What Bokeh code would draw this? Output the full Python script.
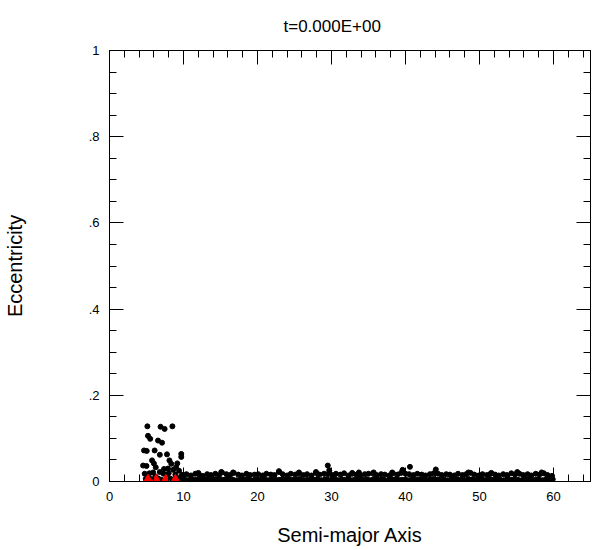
from bokeh.plotting import figure
from bokeh.models import Range1d, FixedTicker, LinearAxis
from bokeh.embed import file_html
from bokeh.resources import INLINE

# ---- data ----
title_text = "t=0.000E+00"
x_title = "Semi-major Axis"
y_title = "Eccentricity"

x_major = [0, 10, 20, 30, 40, 50, 60]
x_minor = [2, 4, 6, 8, 12, 14, 16, 18, 22, 24, 26, 28, 32, 34, 36, 38, 42, 44, 46, 48, 52, 54, 56, 58, 62, 64]
y_major = [0, 0.2, 0.4, 0.6, 0.8, 1.0]
y_minor = [0.05, 0.1, 0.15, 0.25, 0.3, 0.35, 0.45, 0.5, 0.55, 0.65, 0.7, 0.75, 0.85, 0.9, 0.95]
y_labels = {0: "0", 0.2: ".2", 0.4: ".4", 0.6: ".6", 0.8: ".8", 1.0: "1"}

# inner scattered bodies (black dots), a in AU, e
inner_a = [5.12, 6.9, 7.45, 8.5, 5.2, 5.5, 6.56, 7.1, 4.67, 5.03, 6.1, 6.8, 7.77, 9.7, 9.7,
           5.75, 6.0, 8.1, 8.35, 9.16, 4.54, 5.0, 6.25, 7.37, 7.9, 8.6, 9.0, 4.76, 5.4, 5.9,
           6.8, 7.3, 8.0, 8.9, 9.4, 5.3, 6.2, 7.8, 9.0, 4.9, 5.7, 6.6, 7.0, 8.3, 9.3, 9.8]
inner_e = [0.128, 0.127, 0.122, 0.128, 0.106, 0.099, 0.095, 0.090, 0.072, 0.071, 0.072, 0.062, 0.063, 0.064, 0.057,
           0.049, 0.042, 0.049, 0.041, 0.042, 0.037, 0.036, 0.033, 0.029, 0.030, 0.027, 0.033, 0.018, 0.019, 0.021,
           0.022, 0.018, 0.019, 0.016, 0.025, 0.010, 0.012, 0.011, 0.009, 0.006, 0.005, 0.007, 0.004, 0.006, 0.008, 0.015]

# planets (red triangles)
planet_a = [5.2, 6.3, 7.6, 8.9]
planet_e = [0.006, 0.006, 0.006, 0.006]

# outer disc band, low layer
band_a = [9.6, 10.1, 10.5, 11.0, 11.5, 12.0, 12.4, 12.9, 13.4, 13.9, 14.3, 14.8, 15.3, 15.8, 16.2, 16.7, 17.2, 17.7,
          18.1, 18.6, 19.1, 19.6, 20.0, 20.5, 21.0, 21.5, 21.9, 22.4, 22.9, 23.4, 23.8, 24.3, 24.8, 25.3, 25.7, 26.2,
          26.7, 27.2, 27.6, 28.1, 28.6, 29.1, 29.5, 30.0, 30.5, 31.0, 31.4, 31.9, 32.4, 32.9, 33.3, 33.8, 34.3, 34.8,
          35.2, 35.7, 36.2, 36.7, 37.1, 37.6, 38.1, 38.6, 39.0, 39.5, 40.0, 40.5, 40.9, 41.4, 41.9, 42.4, 42.8, 43.3,
          43.8, 44.3, 44.7, 45.2, 45.7, 46.2, 46.6, 47.1, 47.6, 48.1, 48.5, 49.0, 49.5, 50.0, 50.4, 50.9, 51.4, 51.9,
          52.3, 52.8, 53.3, 53.8, 54.2, 54.7, 55.2, 55.7, 56.1, 56.6, 57.1, 57.6, 58.0, 58.5, 59.0, 59.5, 59.9]
band_e = [0.004, 0.005, 0.003, 0.006, 0.004, 0.005, 0.003, 0.004, 0.006, 0.004, 0.005, 0.003, 0.004, 0.006, 0.005, 0.004, 0.003, 0.005,
          0.004, 0.006, 0.003, 0.004, 0.005, 0.004, 0.006, 0.003, 0.005, 0.004, 0.004, 0.006, 0.003, 0.005, 0.004, 0.005, 0.006, 0.003,
          0.004, 0.005, 0.004, 0.006, 0.003, 0.005, 0.004, 0.004, 0.006, 0.003, 0.005, 0.004, 0.005, 0.003, 0.006, 0.004, 0.004, 0.005,
          0.003, 0.006, 0.004, 0.005, 0.004, 0.003, 0.006, 0.005, 0.004, 0.004, 0.005, 0.003, 0.006, 0.004, 0.005, 0.004, 0.003, 0.005,
          0.006, 0.004, 0.004, 0.005, 0.003, 0.006, 0.004, 0.005, 0.004, 0.003, 0.006, 0.005, 0.004, 0.004, 0.005, 0.003, 0.006, 0.004,
          0.005, 0.004, 0.003, 0.006, 0.004, 0.005, 0.004, 0.003, 0.006, 0.005, 0.004, 0.004, 0.005, 0.003, 0.006, 0.004, 0.005]

# outer disc band, upper layer
top_a = [9.9, 10.4, 11.0, 11.6, 12.1, 12.6, 13.2, 13.7, 14.3, 14.8, 15.2, 15.8, 16.3, 16.8, 17.4, 17.9, 18.5, 19.0,
         19.6, 20.1, 20.7, 21.2, 21.8, 22.3, 22.9, 23.4, 24.0, 24.5, 25.1, 25.6, 26.2, 26.7, 27.3, 27.9, 28.4, 29.0,
         29.5, 30.1, 30.6, 31.2, 31.7, 32.3, 32.8, 33.4, 33.9, 34.5, 35.0, 35.6, 36.1, 36.7, 37.2, 37.8, 38.3, 38.9,
         39.4, 40.0, 40.5, 41.1, 41.6, 42.2, 42.7, 43.3, 43.8, 44.4, 44.9, 45.5, 46.0, 46.6, 47.1, 47.7, 48.2, 48.8,
         49.3, 49.9, 50.4, 51.0, 51.5, 52.1, 52.6, 53.2, 53.7, 54.3, 54.8, 55.4, 55.9, 56.5, 57.0, 57.6, 58.1, 58.7,
         59.2, 59.8]
top_e = [0.015, 0.017, 0.014, 0.018, 0.016, 0.013, 0.017, 0.015, 0.018, 0.014, 0.021, 0.017, 0.015, 0.020, 0.016, 0.014, 0.018, 0.015,
         0.016, 0.017, 0.014, 0.018, 0.016, 0.015, 0.022, 0.017, 0.014, 0.018, 0.016, 0.019, 0.015, 0.017, 0.014, 0.020, 0.016, 0.018,
         0.017, 0.015, 0.018, 0.016, 0.019, 0.014, 0.018, 0.016, 0.015, 0.017, 0.018, 0.019, 0.015, 0.017, 0.016, 0.014, 0.019, 0.016,
         0.020, 0.018, 0.017, 0.015, 0.018, 0.016, 0.014, 0.017, 0.019, 0.018, 0.015, 0.017, 0.016, 0.014, 0.018, 0.015, 0.017, 0.020,
         0.016, 0.014, 0.017, 0.015, 0.018, 0.016, 0.014, 0.017, 0.015, 0.019, 0.016, 0.018, 0.015, 0.017, 0.014, 0.018, 0.016, 0.019,
         0.015, 0.013]

# outer disc, raised bumps
bump_a = [15.1, 16.7, 22.9, 25.6, 27.9, 29.5, 29.7, 32.8, 35.7, 38.2, 39.6, 40.6, 44.1, 48.5, 55.1, 58.4, 12.0, 33.7, 51.6]
bump_e = [0.022, 0.021, 0.024, 0.021, 0.022, 0.037, 0.026, 0.020, 0.021, 0.021, 0.027, 0.034, 0.028, 0.021, 0.022, 0.021, 0.020, 0.021, 0.020]

# ---- figure ----
FONT = "Liberation Sans"

p = figure(width=600, height=550, output_backend="svg", toolbar_location=None,
           x_range=Range1d(0, 65), y_range=Range1d(0, 1),
           min_border_left=108, min_border_right=10, min_border_top=49, min_border_bottom=69)
p.xgrid.visible = False
p.ygrid.visible = False
p.outline_line_color = "black"
p.outline_line_width = 1
p.background_fill_color = "white"
p.border_fill_color = "white"

p.title.text = title_text
p.title.text_font = FONT
p.title.text_font_size = "17px"
p.title.text_font_style = "normal"
p.title.text_color = "black"
p.title.align = "left"
p.title.offset = 174
p.title.standoff = 29


def style_axis(ax, ticker, labels=True):
    ax.ticker = ticker
    ax.axis_line_color = "black"
    ax.major_tick_line_color = "black"
    ax.minor_tick_line_color = "black"
    ax.major_tick_in = 14
    ax.major_tick_out = 0
    ax.minor_tick_in = 7
    ax.minor_tick_out = 0
    ax.major_label_text_font = FONT
    ax.major_label_text_color = "black"
    ax.major_label_text_font_size = "13px"
    if labels:
        ax.major_label_standoff = 10
    else:
        ax.major_label_standoff = 0
        ax.major_label_overrides = {t: "" for t in ticker.ticks}


xt = FixedTicker(ticks=x_major, minor_ticks=x_minor)
yt = FixedTicker(ticks=y_major, minor_ticks=y_minor)

style_axis(p.xaxis[0], xt)
style_axis(p.yaxis[0], yt)
p.yaxis[0].major_label_overrides = y_labels
p.yaxis[0].major_label_orientation = "horizontal"

for ax, txt, so in ((p.xaxis[0], x_title, 20), (p.yaxis[0], y_title, 60)):
    ax.axis_label = txt
    ax.axis_label_text_font = FONT
    ax.axis_label_text_font_size = "20px"
    ax.axis_label_text_font_style = "normal"
    ax.axis_label_text_color = "black"
    ax.axis_label_standoff = so

top_ax = LinearAxis()
style_axis(top_ax, FixedTicker(ticks=x_major, minor_ticks=x_minor), labels=False)
p.add_layout(top_ax, "above")
right_ax = LinearAxis()
style_axis(right_ax, FixedTicker(ticks=y_major, minor_ticks=y_minor), labels=False)
p.add_layout(right_ax, "right")

p.scatter(band_a, band_e, marker="circle", size=5, fill_color="black", line_color="black")
p.scatter(top_a, top_e, marker="circle", size=5, fill_color="black", line_color="black")
p.scatter(bump_a, bump_e, marker="circle", size=5, fill_color="black", line_color="black")
p.scatter(inner_a, inner_e, marker="circle", size=5, fill_color="black", line_color="black")
p.scatter(planet_a, planet_e, marker="triangle", size=8, fill_color="red", line_color="red")

open("out.html", "w").write(file_html(p, INLINE))
